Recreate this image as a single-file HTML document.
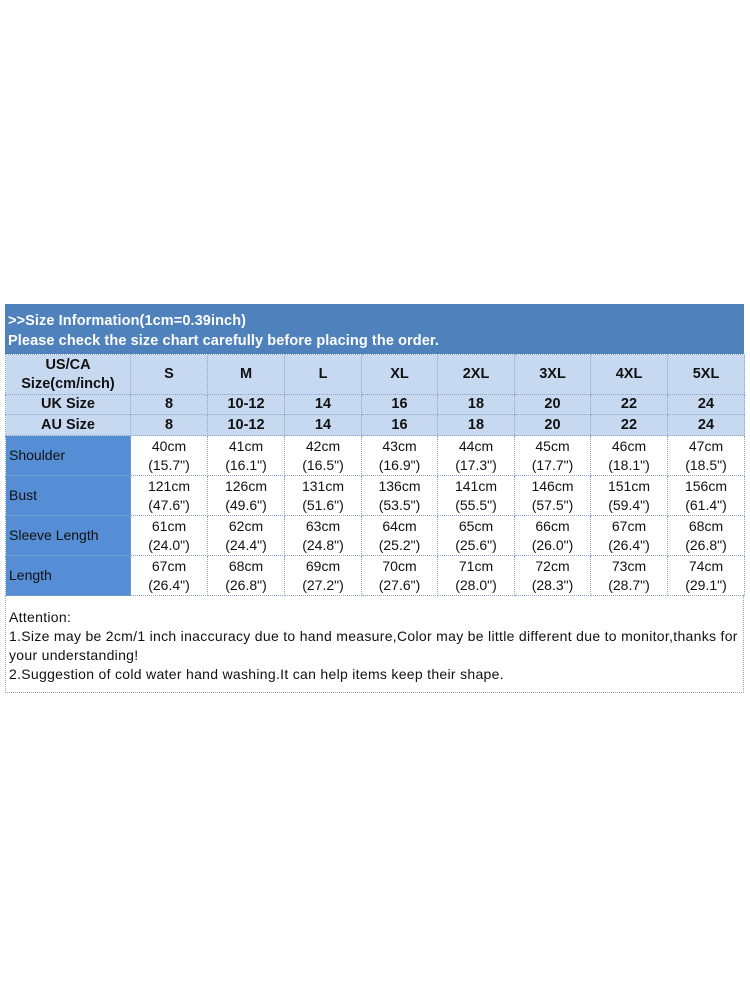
<!DOCTYPE html>
<html><head><style>
body{margin:0;width:750px;height:1000px;background:#fff;position:relative;font-family:"Liberation Sans",Arial,sans-serif;overflow:hidden}
.a{position:absolute;box-sizing:border-box}
.title{left:5px;top:304px;width:739px;height:50px;background:#4f81bd;color:#fff;font-weight:bold;font-size:14.5px;padding:7px 0 0 3px;line-height:20px;letter-spacing:0.1px}
table{position:absolute;left:5px;top:354px;border-collapse:collapse;table-layout:fixed}
td{border:1px dotted #8aa6c6;text-align:center;padding:0;font-size:14px;color:#111;line-height:19px}
tr.h td{background:#c6d9f0;font-weight:bold;font-size:14.5px}
td.l{background:#558ed5;text-align:left;padding-left:3px}
.att{left:5px;top:595px;width:739px;height:98px;border:1px dotted #8aa6c6;border-top:none;font-size:14px;color:#111;padding:13px 0 0 3px;line-height:19px;letter-spacing:0.3px;white-space:nowrap}
</style></head><body>
<div class="a title">&gt;&gt;Size Information(1cm=0.39inch)<br>Please check the size chart carefully before placing the order.</div>
<table>
<colgroup><col style="width:125px"><col style="width:77px"><col style="width:77px"><col style="width:77px"><col style="width:76px"><col style="width:77px"><col style="width:76px"><col style="width:77px"><col style="width:77px"></colgroup>
<tr class="h" style="height:40px"><td>US/CA<br>Size(cm/inch)</td><td>S</td><td>M</td><td>L</td><td>XL</td><td>2XL</td><td>3XL</td><td>4XL</td><td>5XL</td></tr>
<tr class="h" style="height:20px"><td>UK Size</td><td>8</td><td>10-12</td><td>14</td><td>16</td><td>18</td><td>20</td><td>22</td><td>24</td></tr>
<tr class="h" style="height:21px"><td>AU Size</td><td>8</td><td>10-12</td><td>14</td><td>16</td><td>18</td><td>20</td><td>22</td><td>24</td></tr>
<tr style="height:40px"><td class="l">Shoulder</td><td>40cm<br>(15.7")</td><td>41cm<br>(16.1")</td><td>42cm<br>(16.5")</td><td>43cm<br>(16.9")</td><td>44cm<br>(17.3")</td><td>45cm<br>(17.7")</td><td>46cm<br>(18.1")</td><td>47cm<br>(18.5")</td></tr>
<tr style="height:40px"><td class="l">Bust</td><td>121cm<br>(47.6")</td><td>126cm<br>(49.6")</td><td>131cm<br>(51.6")</td><td>136cm<br>(53.5")</td><td>141cm<br>(55.5")</td><td>146cm<br>(57.5")</td><td>151cm<br>(59.4")</td><td>156cm<br>(61.4")</td></tr>
<tr style="height:40px"><td class="l">Sleeve Length</td><td>61cm<br>(24.0")</td><td>62cm<br>(24.4")</td><td>63cm<br>(24.8")</td><td>64cm<br>(25.2")</td><td>65cm<br>(25.6")</td><td>66cm<br>(26.0")</td><td>67cm<br>(26.4")</td><td>68cm<br>(26.8")</td></tr>
<tr style="height:40px"><td class="l">Length</td><td>67cm<br>(26.4")</td><td>68cm<br>(26.8")</td><td>69cm<br>(27.2")</td><td>70cm<br>(27.6")</td><td>71cm<br>(28.0")</td><td>72cm<br>(28.3")</td><td>73cm<br>(28.7")</td><td>74cm<br>(29.1")</td></tr>
</table>
<div class="a att">Attention:<br>1.Size may be 2cm/1 inch inaccuracy due to hand measure,Color may be little different due to monitor,thanks for<br>your understanding!<br>2.Suggestion of cold water hand washing.It can help items keep their shape.</div>
</body></html>
